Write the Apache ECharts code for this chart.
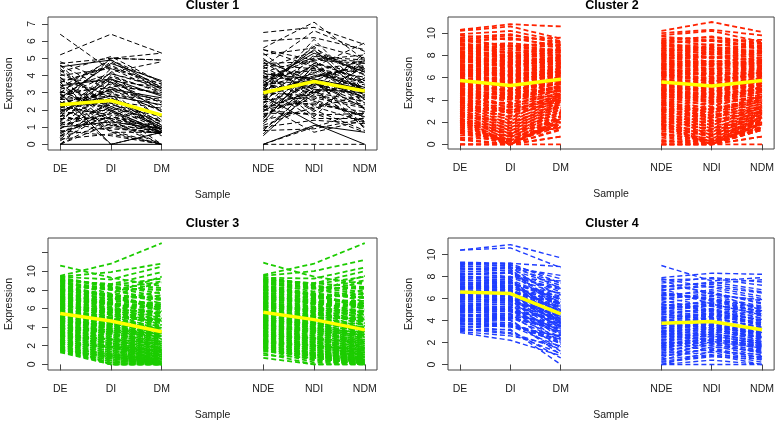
<!DOCTYPE html>
<html><head><meta charset="utf-8">
<script src="https://cdn.jsdelivr.net/npm/echarts@6/dist/echarts.min.js"></script>
<style>html,body{margin:0;padding:0;background:#fff}#c{width:777px;height:422px}</style>
</head><body><div id="c"></div>
<script>
// ---- categories / tick labels ----
const samples = ['DE','DI','DM','NDE','NDI','NDM'];
const samplePos = [1,2,3,5,6,7];
const titles = ['Cluster 1','Cluster 2','Cluster 3','Cluster 4'];
const c1YTicks = [0,1,2,3,4,5,6,7];
const c2YTicks = [0,2,4,6,8,10];
const c3YTicks = [0,2,4,6,8,10,12];
const c3YLabels = [0,2,4,6,8,10];
const c4YTicks = [0,2,4,6,8,10];

// ---- cluster means (yellow) ----
const c1Mean = [2.3,2.55,1.7,3.0,3.65,3.1];
const c2Mean = [5.75,5.3,5.85,5.6,5.25,5.75];
const c3Mean = [5.45,4.65,3.5,5.6,4.8,3.7];
const c4Mean = [6.6,6.45,4.6,3.75,3.9,3.15];

// ---- Cluster 1 ----
const c1DE = [6.4,5.2,4.7,4.6,4.5,4.3,4.2,4.0,3.9,3.8,3.7,3.6,3.5,3.4,3.3,3.2,3.1,3.0,3.0,2.9,2.8,2.7,2.7,2.6,2.5,2.4,2.3,2.2,2.1,2.0,2.0,1.9,1.8,1.7,1.6,1.5,1.4,1.3,1.2,1.1,1.0,0.9,0.8,0.7,0.6,0.5,0.4,0.3,0.2,0.0,0.0,0.0,0.7,1.6,2.4,3.1,3.6,4.8,2.2,1.3,
  3.9,2.6,1.1,4.4,0.3,2.9,3.3,1.8,0.0,4.1,2.3,3.6,1.4,0.9,2.7,4.6,3.0,1.6,2.1,0.5];
const c1DI = [4.3,6.4,5.0,3.1,4.9,2.2,5.1,4.4,1.2,3.6,2.9,4.6,0.7,3.8,2.5,4.1,1.9,3.3,5.0,2.1,3.5,1.4,4.7,2.8,0.0,3.0,2.4,1.7,3.9,2.6,1.1,3.2,2.0,0.9,2.7,1.5,3.4,0.8,2.3,1.8,1.3,2.9,0.5,1.6,2.2,1.0,3.7,0.6,1.9,0.0,1.2,2.5,1.6,4.2,3.1,2.0,4.5,3.6,2.8,4.0,
  1.4,4.8,3.3,2.1,2.6,0.7,4.9,3.8,1.5,2.7,5.0,1.1,3.6,2.4,4.1,1.9,0.0,4.4,3.2,2.0];
const c1DM = [1.2,5.3,4.9,0.7,3.3,1.0,3.6,3.1,0.0,2.4,0.8,3.2,0.7,1.9,1.0,3.4,0.6,2.2,5.3,1.4,2.9,0.0,3.7,1.1,0.7,2.0,0.9,0.5,3.1,1.7,0.8,2.7,0.0,0.7,1.3,0.9,3.0,0.0,1.6,0.7,0.9,2.5,0.0,1.0,1.3,0.6,3.3,0.0,1.2,0.0,0.7,2.1,0.9,4.8,2.6,0.7,3.5,1.4,2.3,3.0,
  0.7,3.2,2.5,0.9,1.1,0.0,3.6,2.8,0.7,1.3,4.9,0.6,2.9,1.0,3.3,0.8,0.7,3.5,1.9,0.7];
const c1NDE = [6.5,5.6,5.5,5.2,4.9,4.7,4.5,4.3,4.2,4.0,3.9,3.8,3.7,3.6,3.5,3.4,3.3,3.2,3.1,3.0,3.0,2.9,2.8,2.7,2.6,2.5,2.4,2.3,2.2,2.1,2.0,1.9,1.8,1.6,1.5,1.4,1.2,1.0,0.9,0.8,0.5,0.0,6.0,4.6,3.6,2.9,2.2,1.7,3.3,4.1,2.6,3.9,3.1,2.0,4.4,1.1,2.8,3.5,0.0,5.5,
  1.9,4.8,3.2,0.8,5.3,2.4,3.7,1.3,4.5,2.9,0.0,3.9,5.0,2.1,1.6,4.2,3.4,0.6,2.7,4.0];
const c1NDI = [6.8,7.1,4.9,5.6,3.6,4.8,6.6,3.2,5.0,2.5,4.4,3.9,2.0,5.3,3.0,4.1,1.5,3.7,4.6,2.8,3.4,5.8,1.2,3.9,4.2,2.3,3.5,0.7,4.7,3.1,2.6,3.8,1.8,3.3,4.0,2.1,3.6,1.4,2.9,0.9,3.2,0.0,6.2,4.4,5.1,3.6,2.4,3.0,4.9,3.8,2.7,4.3,3.5,1.7,5.4,2.2,4.0,3.7,1.1,4.5,
  4.5,2.9,5.7,3.4,3.1,5.2,1.9,4.6,3.0,6.1,1.0,4.9,2.6,4.3,3.8,2.2,5.5,3.6,4.7,1.6];
const c1NDM = [5.8,4.9,5.2,4.0,2.1,3.7,5.4,1.0,4.8,1.6,3.9,4.6,0.8,4.2,2.5,3.3,1.5,4.8,3.1,2.2,3.6,5.0,0.0,4.4,3.2,1.9,2.8,1.4,4.1,3.4,1.6,2.7,0.7,3.8,4.5,2.9,3.1,1.2,2.3,1.5,3.0,0.0,5.5,3.6,4.9,2.6,1.7,3.5,4.7,3.2,2.1,4.8,2.4,1.8,4.3,1.3,3.7,2.9,0.7,5.9,
  2.4,4.5,3.0,5.1,1.2,4.2,3.9,2.6,5.3,3.1,1.9,2.0,4.6,3.3,0.9,4.9,2.8,1.5,3.8,4.4];

// ---- Cluster 2 ----
const c2DE = [10.3,10.2,9.9,9.8,9.6,9.5,9.3,9.3,9.2,9.0,8.9,8.9,8.7,8.6,8.6,8.4,8.3,8.3,8.1,8.0,7.9,7.9,7.8,7.6,7.5,7.5,7.4,7.2,7.1,7.1,7.0,6.9,6.8,6.7,6.7,6.6,6.5,6.4,6.3,6.3,6.2,6.1,6.0,5.9,5.9,5.8,5.7,5.6,5.6,5.5,5.4,5.3,5.3,5.2,5.1,5.0,4.9,4.9,4.8,4.7,4.6,4.5,4.5,4.4,4.3,4.2,4.1,4.0,3.9,3.9,3.8,3.7,3.6,3.5,3.4,3.3,3.2,3.1,3.0,2.9,2.8,2.7,2.6,2.5,2.4,2.3,2.2,2.1,2.0,1.9,1.8,1.7,1.5,1.4,1.2,1.0,0.8,0.6,0.4,0.0,0.0,0.0,8.2,6.4,5.0,7.7,4.6,3.5,2.1,1.6,
  9.1,8.5,7.8,7.3,6.9,6.1,5.8,5.2,4.7,4.1,3.7,3.0,2.6,1.9,1.1,9.4,8.0,6.6,5.5,4.4,3.3,2.2,8.7,7.0,6.3,5.0,3.9,2.8,1.3,0.5];
const c2DI = [10.8,10.6,10.2,9.4,9.9,8.8,9.5,8.9,9.6,8.4,9.1,8.2,8.9,7.9,8.8,8.0,8.6,7.7,8.3,7.4,8.1,7.3,7.9,7.0,7.8,6.9,7.6,6.6,7.3,6.8,6.5,7.2,6.3,6.9,6.1,6.6,6.0,6.7,5.8,6.4,5.6,6.3,5.5,6.0,5.2,5.9,5.1,5.7,4.8,5.6,4.7,5.4,4.5,5.3,4.2,5.0,4.0,4.9,3.8,4.7,3.5,4.5,3.3,4.2,3.0,4.1,2.8,3.7,2.4,3.6,2.1,3.4,1.8,3.1,1.5,2.9,1.2,2.6,0.9,2.3,0.6,2.0,0.3,1.7,0.0,1.5,0.0,1.2,0.0,0.9,0.0,0.7,0.5,0.0,0.3,0.0,0.8,0.4,0.0,0.0,0.0,0.0,7.9,6.2,4.3,7.4,4.1,2.8,1.0,0.2,
  8.6,8.9,7.1,7.6,6.2,6.5,5.1,5.5,4.0,4.4,2.9,3.3,1.9,1.0,0.2,9.8,7.5,6.9,4.8,4.6,2.5,1.4,8.2,7.3,5.7,5.2,3.1,2.0,0.4,0.0];
const c2DM = [10.6,9.5,9.3,9.6,9.1,9.2,8.9,9.0,8.8,8.6,8.7,8.5,8.4,8.3,8.2,8.3,8.0,8.1,7.9,7.8,7.7,7.8,7.5,7.6,7.4,7.3,7.3,7.1,7.2,7.0,6.9,7.0,6.7,6.9,6.6,6.8,6.5,6.6,6.4,6.5,6.3,6.4,6.2,6.2,6.0,6.1,5.9,6.0,5.8,5.8,5.6,5.7,5.5,5.6,5.3,5.5,5.2,5.4,5.0,5.2,4.9,5.1,4.7,4.9,4.5,4.8,4.3,4.6,4.2,4.5,4.0,4.3,3.8,4.1,3.6,3.9,3.4,3.8,3.2,3.6,3.0,3.5,2.8,3.3,2.6,3.1,2.4,2.9,2.3,2.7,2.1,2.5,1.9,2.3,1.7,2.0,1.5,1.8,1.3,0.7,0.0,0.7,8.0,6.3,5.1,7.6,4.4,3.7,2.2,1.6,
  8.9,8.4,7.6,7.2,6.8,6.4,6.1,5.6,5.3,4.8,4.5,3.9,3.5,2.9,2.0,9.2,7.9,7.0,5.9,5.0,4.1,3.1,8.5,7.4,6.6,5.4,4.3,3.4,2.5,1.4];
const c2NDE = [10.2,10.0,9.8,9.7,9.5,9.4,9.2,9.1,9.1,8.9,8.8,8.7,8.6,8.5,8.4,8.3,8.2,8.1,8.0,7.9,7.8,7.7,7.7,7.5,7.4,7.3,7.2,7.1,7.0,6.9,6.9,6.8,6.7,6.6,6.5,6.4,6.4,6.3,6.2,6.1,6.0,5.9,5.8,5.8,5.7,5.6,5.5,5.4,5.4,5.3,5.2,5.1,5.0,4.9,4.8,4.8,4.7,4.6,4.5,4.4,4.3,4.2,4.1,4.0,3.9,3.8,3.7,3.6,3.5,3.4,3.3,3.2,3.1,3.0,2.9,2.8,2.7,2.6,2.5,2.3,2.2,2.1,2.0,1.9,1.8,1.7,1.6,1.4,1.2,1.0,0.8,0.6,0.4,0.2,0.0,0.0,1.5,2.4,0.0,0.9,3.6,5.0,8.1,6.2,4.9,7.6,4.4,3.0,1.8,0.0,
  9.0,8.4,7.9,7.2,6.8,6.2,5.7,5.1,4.6,4.2,3.6,3.1,2.4,1.8,1.0,9.3,8.1,6.5,5.4,4.5,3.2,2.1,8.6,7.1,6.4,4.9,3.8,2.7,1.4,0.3];
const c2NDI = [11.0,10.3,10.2,9.3,9.6,8.9,9.4,8.6,9.3,8.3,9.0,8.1,8.8,7.8,8.5,7.7,8.3,7.4,8.1,7.2,7.9,7.0,7.8,6.8,7.5,6.7,7.3,6.5,7.1,6.3,6.8,6.1,6.6,5.9,6.4,5.7,6.3,5.6,6.0,5.4,5.9,5.2,5.7,5.1,5.5,4.9,5.3,4.7,5.2,4.6,4.9,4.4,4.8,4.1,4.6,3.9,4.5,3.7,4.2,3.4,4.0,3.1,3.8,2.8,3.6,2.6,3.3,2.3,3.1,2.0,2.9,1.7,2.6,1.4,2.4,1.1,2.1,0.8,1.9,0.5,1.6,0.2,1.4,0.0,1.1,0.0,0.8,0.0,0.5,0.3,0.0,0.1,0.0,0.4,0.0,0.0,0.7,1.2,0.0,0.3,2.5,4.2,7.8,5.8,4.3,7.2,3.8,2.2,0.9,0.0,
  8.5,8.7,7.2,7.5,6.1,6.4,5.0,5.4,3.9,4.3,2.8,3.2,1.7,0.9,0.1,9.7,7.4,6.8,4.7,4.5,2.4,1.3,8.1,7.2,5.6,5.1,3.0,1.9,0.3,0.0];
const c2NDM = [10.1,9.8,9.2,9.4,9.0,9.1,8.8,8.9,8.7,8.5,8.6,8.4,8.3,8.2,8.2,8.0,8.0,7.8,7.8,7.6,7.6,7.4,7.5,7.3,7.3,7.1,7.1,6.9,7.0,6.8,6.8,6.6,6.7,6.5,6.5,6.3,6.4,6.2,6.2,6.0,6.1,5.9,5.9,5.8,5.8,5.6,5.7,5.5,5.5,5.4,5.3,5.2,5.2,5.0,5.0,4.8,4.9,4.7,4.7,4.5,4.5,4.3,4.3,4.1,4.2,3.9,4.0,3.7,3.8,3.5,3.6,3.3,3.4,3.1,3.2,2.9,3.0,2.7,2.8,2.5,2.6,2.3,2.4,2.2,2.2,2.0,2.0,1.8,1.8,1.6,1.5,1.4,1.3,1.5,1.3,0.7,1.9,2.4,0.0,1.4,3.4,4.8,8.3,6.1,5.0,7.5,4.2,2.9,2.1,0.7,
  8.8,8.3,7.5,7.1,6.7,6.3,6.0,5.5,5.2,4.7,4.4,3.8,3.4,2.8,1.9,9.1,7.8,6.9,5.8,4.9,4.0,3.0,8.4,7.3,6.5,5.3,4.2,3.3,2.4,1.3];

// ---- Cluster 3 ----
const c3DE = [10.6,9.5,9.4,9.4,9.2,9.0,8.9,8.9,8.7,8.5,8.4,8.4,8.2,8.1,8.0,7.8,7.8,7.7,7.5,7.4,7.3,7.3,7.1,7.0,6.9,6.8,6.8,6.6,6.5,6.5,6.4,6.2,6.1,6.1,6.0,5.9,5.8,5.7,5.7,5.6,5.5,5.4,5.4,5.3,5.2,5.1,5.0,5.0,4.9,4.8,4.7,4.6,4.6,4.5,4.4,4.3,4.2,4.2,4.1,4.0,3.9,3.8,3.8,3.7,3.6,3.5,3.4,3.3,3.2,3.1,3.0,2.9,2.8,2.7,2.6,2.5,2.4,2.3,2.2,2.1,2.0,1.9,1.8,1.7,1.6,1.5,1.4,1.3,6.3,5.8,7.2,4.9,3.5,8.1,6.7,5.5,4.4,7.6,5.2,6.0,9.1,3.1,2.4,8.6,4.7,6.9,5.6,7.9,3.9,5.3,
  9.3,8.8,8.3,7.9,7.5,7.0,6.6,6.2,5.8,5.4,5.0,4.6,4.2,3.8,3.4,3.0,2.6,2.2,1.8,1.5,9.0,8.0,7.2,6.4,5.6,4.8,4.0,3.2,2.4,1.6];
const c3DI = [9.3,10.8,9.9,9.1,8.3,8.6,8.0,7.6,8.1,7.4,7.2,8.0,7.5,6.9,7.3,6.6,7.0,6.4,6.8,6.2,6.5,6.0,6.4,5.8,6.1,5.5,5.9,5.3,5.7,5.0,5.4,4.8,5.3,4.6,5.0,4.4,4.8,4.2,4.6,4.0,4.5,3.8,4.3,3.6,4.1,3.4,3.9,3.2,3.8,3.0,3.6,2.8,3.4,2.6,3.2,2.4,3.0,2.2,2.8,2.0,2.7,1.8,2.5,1.6,2.3,1.4,2.1,1.2,1.9,1.0,1.8,0.8,1.6,0.6,1.4,0.4,1.2,0.2,1.0,0.0,0.8,0.0,0.6,0.0,0.4,0.0,0.2,0.0,5.8,4.7,6.6,4.1,2.2,7.5,5.9,4.6,3.3,7.0,4.4,5.6,8.5,1.9,0.9,8.1,3.9,6.5,4.9,7.4,2.7,4.5,
  8.4,8.2,7.3,7.4,6.4,6.6,5.6,5.9,4.9,5.0,4.1,4.3,3.3,3.5,2.6,2.7,1.8,1.9,1.1,0.9,8.6,7.2,6.8,5.5,5.2,3.9,3.7,2.3,1.9,0.7];
const c3DM = [8.4,13.0,10.8,10.5,7.2,9.9,6.9,9.4,6.5,8.8,6.0,8.9,5.7,7.8,6.1,5.3,7.4,4.9,6.6,4.6,5.8,4.2,6.0,3.9,5.2,3.6,5.4,3.3,4.8,3.0,4.6,2.7,4.4,2.4,4.0,2.2,3.7,2.0,3.5,1.8,3.3,1.6,3.0,1.4,2.8,1.2,2.6,1.0,2.4,0.8,2.2,0.6,2.0,0.5,1.8,0.3,1.6,0.2,1.4,0.1,1.2,0.0,1.0,0.0,0.8,0.0,0.7,0.0,0.5,0.0,0.4,0.0,0.3,0.0,0.2,0.0,0.1,0.0,0.0,0.0,0.0,0.0,0.0,0.0,0.0,0.0,0.0,0.0,5.1,3.4,6.0,2.9,0.9,7.0,4.8,3.1,2.0,6.4,2.6,4.1,9.2,0.6,0.0,8.0,1.5,5.5,3.7,6.9,1.1,3.2,
  7.6,8.0,6.3,7.1,5.4,6.2,4.6,5.6,3.8,4.7,3.1,3.9,2.4,3.0,1.7,2.2,1.0,1.4,0.4,0.2,8.2,6.3,6.4,4.5,4.8,2.9,3.3,1.3,1.5,0.0];
const c3NDE = [10.9,9.6,9.5,9.3,9.1,9.0,8.9,8.8,8.6,8.5,8.4,8.3,8.2,8.0,7.9,7.8,7.7,7.6,7.5,7.4,7.3,7.2,7.1,7.0,6.9,6.8,6.7,6.6,6.5,6.4,6.3,6.2,6.1,6.0,5.9,5.9,5.8,5.7,5.6,5.5,5.4,5.4,5.3,5.2,5.1,5.0,4.9,4.8,4.7,4.6,4.5,4.5,4.4,4.3,4.2,4.1,4.0,3.9,3.8,3.7,3.6,3.5,3.4,3.3,3.2,3.1,3.0,2.9,2.8,2.7,2.6,2.5,2.4,2.3,2.2,2.1,2.0,1.9,1.8,1.6,1.4,1.2,1.0,0.7,2.5,1.8,3.0,2.2,6.2,5.7,7.3,4.8,3.6,8.2,6.6,5.6,4.3,7.7,5.0,6.1,9.2,3.2,2.6,8.7,4.6,7.0,5.5,8.0,3.9,5.2,
  9.4,8.9,8.4,8.0,7.6,7.1,6.7,6.3,5.9,5.5,5.1,4.7,4.3,3.9,3.5,3.1,2.7,2.3,1.9,1.5,9.1,8.1,7.3,6.5,5.7,4.9,4.1,3.3,2.5,1.7];
const c3NDI = [9.4,10.8,10.0,9.2,8.4,8.7,8.2,7.8,8.2,7.6,7.4,8.1,7.6,7.0,7.4,6.8,7.1,6.6,6.9,6.4,6.6,6.2,6.5,6.0,6.2,5.7,6.0,5.5,5.8,5.2,5.5,5.0,5.4,4.8,5.1,4.6,4.9,4.4,4.7,4.2,4.6,4.0,4.4,3.8,4.2,3.6,4.0,3.4,3.9,3.2,3.7,3.0,3.5,2.8,3.3,2.6,3.1,2.4,2.9,2.2,2.8,2.0,2.6,1.8,2.4,1.6,2.2,1.4,2.0,1.2,1.9,1.0,1.7,0.8,1.5,0.6,1.3,0.4,1.1,0.2,0.9,0.0,0.7,0.0,1.6,0.5,2.1,0.9,5.9,4.9,6.8,4.3,2.4,7.6,6.1,4.8,3.5,7.2,4.5,5.7,8.6,2.0,1.1,8.2,4.0,6.6,5.1,7.5,2.9,4.7,
  8.5,8.3,7.4,7.5,6.5,6.7,5.7,6.0,5.0,5.1,4.2,4.4,3.4,3.6,2.7,2.8,1.9,2.0,1.2,1.0,8.7,7.3,6.9,5.6,5.3,4.0,3.8,2.4,2.0,0.8];
const c3NDM = [8.6,13.0,11.2,10.4,7.4,10.0,7.1,9.5,6.7,8.9,6.2,9.0,5.9,8.0,6.3,5.5,7.6,5.1,6.8,4.8,6.0,4.4,6.2,4.1,5.4,3.8,5.6,3.5,5.0,3.2,4.8,2.9,4.6,2.6,4.2,2.4,3.9,2.2,3.7,2.0,3.5,1.8,3.2,1.6,3.0,1.4,2.8,1.2,2.6,1.0,2.4,0.8,2.2,0.7,2.0,0.5,1.8,0.4,1.6,0.3,1.4,0.2,1.2,0.1,1.0,0.0,0.9,0.0,0.7,0.0,0.6,0.0,0.5,0.0,0.4,0.0,0.3,0.0,0.2,0.0,0.1,0.0,0.0,0.0,0.3,0.0,0.6,0.0,5.3,3.6,6.2,3.1,1.1,7.2,5.0,3.3,2.2,6.6,2.8,4.3,9.4,0.8,0.0,8.2,1.7,5.7,3.9,7.1,1.3,3.4,
  7.7,8.1,6.4,7.2,5.5,6.3,4.7,5.7,3.9,4.8,3.2,4.0,2.5,3.1,1.8,2.3,1.1,1.5,0.5,0.3,8.3,6.4,6.5,4.6,4.9,3.0,3.4,1.4,1.6,0.0];

// ---- Cluster 4 ----
const c4DE = [10.4,10.4,9.3,9.2,9.1,9.0,8.9,8.8,8.6,8.5,8.4,8.3,8.1,8.0,7.9,7.8,7.7,7.6,7.5,7.4,7.3,7.2,7.1,7.0,7.0,6.9,6.8,6.7,6.6,6.6,6.5,6.4,6.3,6.3,6.2,6.1,6.0,5.9,5.8,5.7,5.6,5.5,5.4,5.3,5.2,5.1,5.0,4.9,4.8,4.7,4.6,4.5,4.4,4.3,4.2,4.1,4.0,3.9,3.7,3.6,3.5,3.4,3.3,3.1,3.0,2.9,7.4,6.7,5.9,8.2,6.2,7.1,5.4,4.8,8.7,6.9,5.1,3.8,7.6,6.4,
  9.2,8.7,8.2,7.7,7.3,6.9,6.5,6.1,5.7,5.3,4.9,4.5,4.1,3.7,3.2,8.0,7.0,6.0,5.0,4.0];
const c4DI = [10.6,10.9,9.2,8.9,9.2,8.7,9.0,8.5,8.8,8.3,8.6,8.0,8.4,7.9,7.7,8.0,7.5,7.8,7.2,7.6,7.0,7.4,6.9,7.2,6.7,7.0,6.6,6.8,6.4,6.7,6.3,6.5,6.1,6.4,6.0,6.2,5.8,6.0,5.6,5.9,5.4,5.7,5.2,5.5,5.0,5.3,4.8,5.1,4.6,4.9,4.4,4.6,4.2,4.5,4.0,4.3,3.8,4.1,3.4,3.7,3.1,3.5,2.9,3.2,2.6,2.2,7.5,6.8,5.9,8.3,6.3,7.2,5.5,4.6,8.8,7.0,5.0,3.6,7.7,6.5,
  9.1,8.5,8.3,7.5,7.4,6.8,6.6,6.0,5.8,5.1,5.0,4.3,4.2,3.5,2.8,7.9,7.1,5.8,4.8,3.6];
const c4DM = [8.8,9.7,7.4,5.8,8.9,4.9,7.8,6.3,8.1,5.1,7.2,6.9,5.5,7.6,4.4,6.8,5.9,4.1,6.5,3.8,5.7,6.2,3.5,5.4,4.8,6.0,3.2,5.1,4.6,5.6,2.9,4.9,4.3,3.7,5.3,2.6,4.5,3.9,4.7,2.3,4.2,3.4,4.4,2.0,3.9,3.0,4.1,1.8,3.6,2.7,3.8,1.5,3.3,2.4,1.2,3.0,2.1,0.9,2.6,1.9,0.6,2.3,1.4,0.0,1.7,0.8,5.7,4.9,4.0,6.6,4.3,5.5,3.6,2.9,7.4,5.2,3.1,2.0,5.9,4.6,
  6.9,5.3,7.0,4.7,6.1,3.9,5.5,3.4,4.8,2.8,4.2,2.2,3.5,1.6,1.0,6.4,5.0,4.3,3.2,2.5];
const c4NDE = [9.0,7.9,7.7,7.6,7.4,7.2,7.0,6.9,6.7,6.5,6.4,6.2,6.1,5.9,5.8,5.6,5.5,5.3,5.2,5.0,4.9,4.8,4.6,4.5,4.4,4.3,4.1,4.0,3.9,3.8,3.7,3.6,3.5,3.4,3.3,3.2,3.1,3.0,2.9,2.8,2.7,2.6,2.5,2.4,2.3,2.2,2.1,2.0,1.9,1.8,1.7,1.6,1.5,1.4,1.3,1.2,1.1,1.0,0.9,0.8,0.6,0.5,0.4,0.2,0.0,0.0,4.2,3.5,5.4,2.7,6.3,1.7,4.7,3.0,0.3,5.1,2.2,3.8,6.8,0.0,
  7.8,7.1,6.6,6.0,5.5,5.0,4.6,4.2,3.7,3.3,2.9,2.5,2.0,1.5,0.8,6.3,5.2,4.0,3.0,1.9];
const c4NDI = [7.6,8.3,7.8,6.4,7.9,6.6,7.5,5.5,7.3,6.0,5.9,6.8,5.3,6.5,5.0,6.2,4.9,5.7,4.6,5.9,4.3,5.4,4.1,5.1,3.8,4.9,3.6,4.6,4.5,3.3,4.3,3.1,4.4,2.9,4.0,3.7,2.7,3.9,3.5,2.5,3.6,2.3,3.4,2.8,2.1,3.2,2.6,1.9,3.0,2.4,1.7,2.8,2.2,1.5,2.6,2.0,1.3,2.3,1.8,1.1,2.1,0.9,1.6,0.7,1.2,0.0,4.7,3.9,5.6,3.2,6.6,2.3,5.0,3.7,0.8,5.5,2.8,4.2,7.1,0.4,
  7.0,7.4,5.8,6.3,4.8,5.4,4.0,4.6,3.3,3.8,2.6,3.0,1.9,2.2,1.4,6.0,5.3,3.5,3.3,2.4];
const c4NDM = [7.9,8.2,7.2,5.8,7.5,4.9,6.8,4.5,6.6,5.2,4.8,6.0,4.2,5.6,4.0,5.3,3.9,4.8,3.5,5.0,3.3,4.6,3.1,4.2,2.9,4.0,2.7,3.8,3.6,2.5,3.4,2.2,3.7,2.0,3.1,2.9,1.8,3.2,2.6,1.6,2.8,1.4,2.7,2.1,1.2,2.5,1.9,1.0,2.3,1.7,0.8,2.1,1.5,0.6,1.9,1.3,0.4,1.7,1.1,0.2,1.5,0.0,1.2,0.5,0.9,0.0,3.6,3.0,4.5,2.4,5.5,1.6,4.0,2.8,0.7,4.6,2.0,3.4,6.5,0.0,
  6.2,7.7,4.7,5.9,3.7,4.9,3.0,4.1,2.4,3.3,1.8,2.5,1.1,1.7,0.6,5.1,4.4,2.6,2.9,1.5];

// ---- layout / styling ----
const FONT = '"Liberation Sans", Arial, Helvetica, sans-serif';
const TXT = '#1a1a1a';
const panels = [
  {cols:[c1DE,c1DI,c1DM,c1NDE,c1NDI,c1NDM], mean:c1Mean, color:'#000000', lw:1, solidEvery:9, titleY:6,
   yMin:-0.33, yMax:7.4, ticks:c1YTicks, labels:c1YTicks, grid:{left:48, top:17, width:329, height:133}},
  {cols:[c2DE,c2DI,c2DM,c2NDE,c2NDI,c2NDM], mean:c2Mean, color:'#ff2200', lw:1.8, solidEvery:0, titleY:6,
   yMin:-0.42, yMax:11.45, ticks:c2YTicks, labels:c2YTicks, grid:{left:448, top:17, width:328, height:132}},
  {cols:[c3DE,c3DI,c3DM,c3NDE,c3NDI,c3NDM], mean:c3Mean, color:'#1ccc00', lw:1.8, solidEvery:0, titleY:224,
   yMin:-0.6, yMax:13.55, ticks:c3YTicks, labels:c3YLabels, grid:{left:48, top:238, width:329, height:134}},
  {cols:[c4DE,c4DI,c4DM,c4NDE,c4NDI,c4NDM], mean:c4Mean, color:'#1f3dff', lw:1.4, solidEvery:0, titleY:224,
   yMin:-0.5, yMax:11.5, ticks:c4YTicks, labels:c4YTicks, grid:{left:448, top:238, width:328, height:134}}
];

const grids = [], xAxes = [], yAxes = [], series = [], graphics = [];
panels.forEach((p, k) => {
  grids.push(Object.assign({show:true, borderColor:'#444', borderWidth:1, backgroundColor:'transparent'}, p.grid));
  xAxes.push({
    type:'value', gridIndex:k, min:0.76, max:7.24,
    axisLine:{show:false}, splitLine:{show:false},
    axisTick:{show:true, length:6, customValues:samplePos, lineStyle:{color:'#444'}},
    axisLabel:{show:true, customValues:samplePos, margin:14, color:TXT, fontSize:10.5, fontFamily:FONT,
      formatter:v => samples[samplePos.indexOf(Math.round(v))] || ''},
    name:'Sample', nameLocation:'middle', nameGap:40,
    nameTextStyle:{color:TXT, fontSize:10.5, fontFamily:FONT}
  });
  yAxes.push({
    type:'value', gridIndex:k, min:p.yMin, max:p.yMax,
    axisLine:{show:false}, splitLine:{show:false},
    axisTick:{show:true, length:6, customValues:p.ticks, lineStyle:{color:'#444'}},
    axisLabel:{show:true, customValues:p.labels, rotate:90, margin:10, color:TXT, fontSize:10.5, fontFamily:FONT,
      formatter:v => String(Math.round(v))},
    name:'Expression', nameLocation:'middle', nameGap:33,
    nameTextStyle:{color:TXT, fontSize:10.5, fontFamily:FONT}
  });
  const n = Math.min(...p.cols.map(c => c.length));
  const items = [];
  for (let i = 0; i < n; i++) {
    const solid = p.solidEvery && (i % p.solidEvery === 4);
    const ls = {type: solid ? 'solid' : [5,3]};
    items.push({coords:[[samplePos[0],p.cols[0][i]],[samplePos[1],p.cols[1][i]],[samplePos[2],p.cols[2][i]]], lineStyle:ls});
    items.push({coords:[[samplePos[3],p.cols[3][i]],[samplePos[4],p.cols[4][i]],[samplePos[5],p.cols[5][i]]], lineStyle:ls});
  }
  series.push({
    type:'lines', coordinateSystem:'cartesian2d', xAxisIndex:k, yAxisIndex:k, polyline:true,
    silent:true, animation:false, z:2,
    lineStyle:{color:p.color, width:p.lw, opacity:1, type:[5,3]},
    data:items
  });
  [[0,1,2],[3,4,5]].forEach(idx => {
    series.push({
      type:'line', xAxisIndex:k, yAxisIndex:k, symbol:'none', silent:true, animation:false, z:5,
      lineStyle:{color:'#ffff00', width:3.5},
      data: idx.map(j => [samplePos[j], p.mean[j]])
    });
  });
  graphics.push({type:'text', x:p.grid.left + p.grid.width/2, y:p.titleY, style:{
    text:titles[k], fill:'#000', font:'bold 12.5px ' + FONT, textAlign:'center', textVerticalAlign:'middle'}});
});

const chart = echarts.init(document.getElementById('c'), null, {renderer:'canvas'});
chart.setOption({animation:false, backgroundColor:'#fff', grid:grids, xAxis:xAxes, yAxis:yAxes, series:series, graphic:graphics});
</script></body></html>
